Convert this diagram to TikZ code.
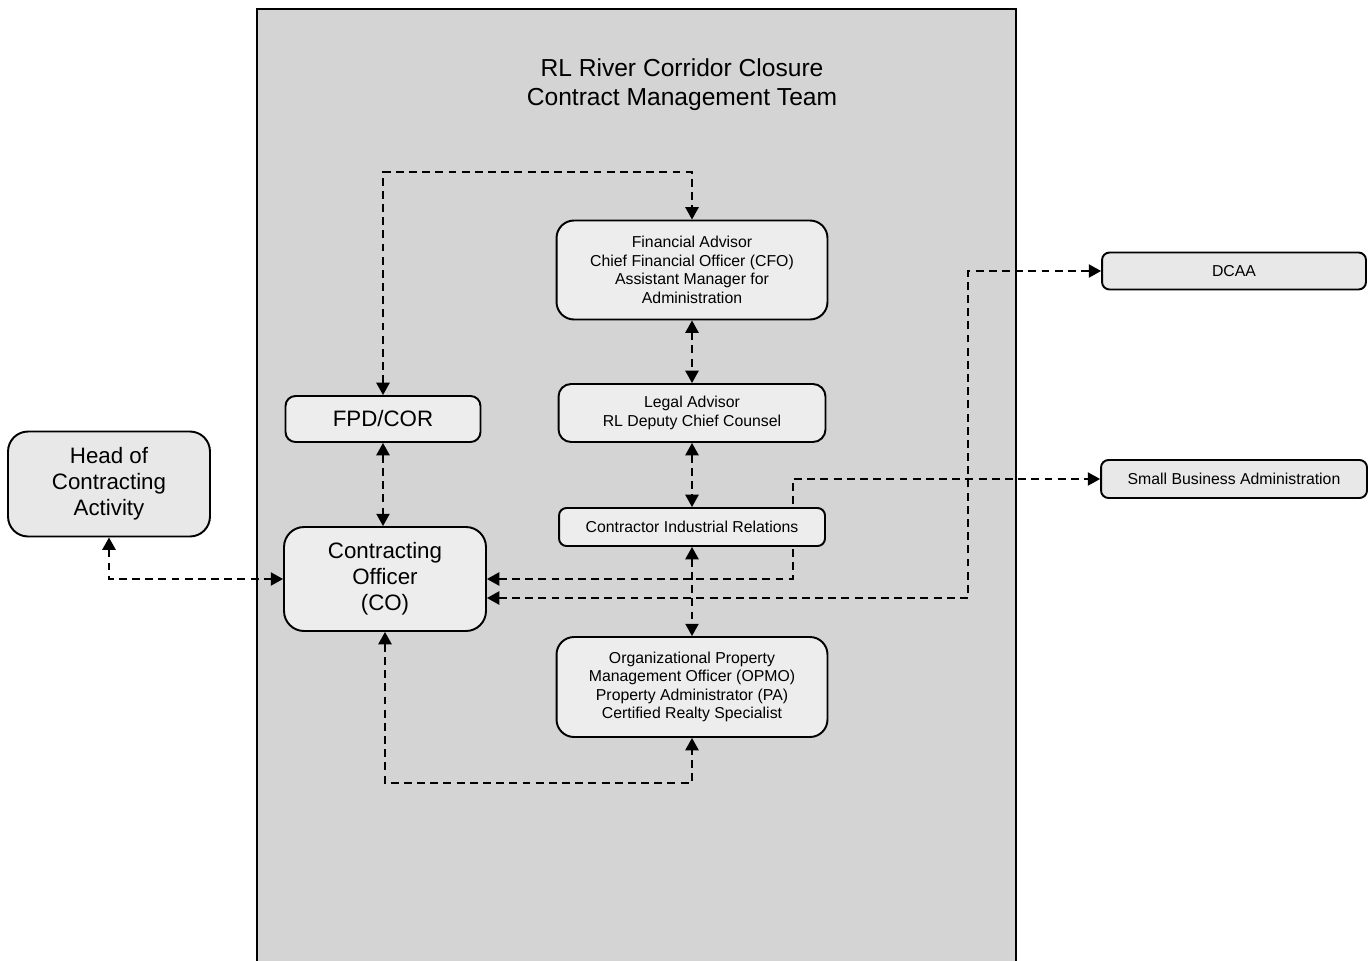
\documentclass[tikz,border=0pt]{standalone}
\usepackage{fontspec}
\setmainfont{Liberation Sans}
\usetikzlibrary{arrows.meta, backgrounds}

\tikzset{
  panel/.style={draw=black, line width=0.9pt, fill=black!17},
  unit/.style={draw=black, line width=1.1pt, fill=black!7, rounded corners=0.35cm,
    align=center, inner sep=0pt, font=\fontsize{9}{10.5}\selectfont},
  bigunit/.style={unit, rounded corners=0.4cm, font=\fontsize{12.7}{14.7}\selectfont},
  link/.style={line width=1pt, dash pattern=on 4.5pt off 3pt,
    {Triangle[length=7pt,width=7.5pt]}-{Triangle[length=7pt,width=7.5pt]}},
}

\begin{document}
\begin{tikzpicture}[x=0.02cm, y=-0.02cm]
    \useasboundingbox (0,0) rectangle (1371,960);

    % --- Team members ---
    \node[font=\fontsize{14}{16.4}\selectfont, align=center] (title) at (682,85)
        {RL River Corridor Closure\\Contract Management Team};

    \node[bigunit, minimum width=4.04cm, minimum height=2.1cm, fill=black!9] (hca) at (109,484)
        {Head of\\Contracting\\Activity};
    \node[bigunit, minimum width=3.9cm, minimum height=0.92cm, rounded corners=0.2cm] (fpd) at (383,419)
        {FPD/COR};
    \node[bigunit, minimum width=4.04cm, minimum height=2.08cm] (co) at (385,579)
        {Contracting\\Officer\\(CO)};

    \node[unit, minimum width=5.42cm, minimum height=1.98cm] (cfo) at (692,270)
        {Financial Advisor\\Chief Financial Officer (CFO)\\Assistant Manager for\\Administration};
    \node[unit, minimum width=5.34cm, minimum height=1.16cm, rounded corners=0.25cm] (legal) at (692,413)
        {Legal Advisor\\RL Deputy Chief Counsel};
    \node[unit, minimum width=5.32cm, minimum height=0.76cm, rounded corners=0.15cm] (cir) at (692,527)
        {Contractor Industrial Relations};
    \node[unit, minimum width=5.42cm, minimum height=2cm] (opmo) at (692,687)
        {Organizational Property\\Management Officer (OPMO)\\Property Administrator (PA)\\Certified Realty Specialist};

    % --- Outside agencies ---
    \node[unit, minimum width=5.28cm, minimum height=0.74cm, rounded corners=0.15cm, fill=black!9] (dcaa) at (1234,271)
        {DCAA};
    \node[unit, minimum width=5.32cm, minimum height=0.76cm, rounded corners=0.15cm, fill=black!9] (sba) at (1234,479)
        {Small Business Administration};

    % --- Bends ---
    \coordinate (cfobend) at (383,172);
    \coordinate (opmobend) at (385,783);
    \coordinate (sbabend) at (793,479);
    \coordinate (dcaabend) at (968,271);

    \begin{scope}[on background layer]
        % team panel
        \draw[panel] (257,9) rectangle (1016,975);

        % --- Links ---
        \draw[link] (fpd.north) -- (cfobend) -| (cfo.north);
        \draw[link] (cfo.south) -- (legal.north);
        \draw[link] (legal.south) -- (cir.north);
        \draw[link] (cir.south) -- (opmo.north);
        \draw[link] (fpd.south) -- (fpd.south |- co.north);
        \draw[link] (hca.south) |- (co.west);
        \draw[link] (co.south) -- (opmobend) -| (opmo.south);
        \draw[link] (co.east) -| (sbabend) -- (sba.west);
        \draw[link] ([yshift=-0.38cm]co.east) -| (dcaabend) -- (dcaa.west);
    \end{scope}
\end{tikzpicture}
\end{document}
